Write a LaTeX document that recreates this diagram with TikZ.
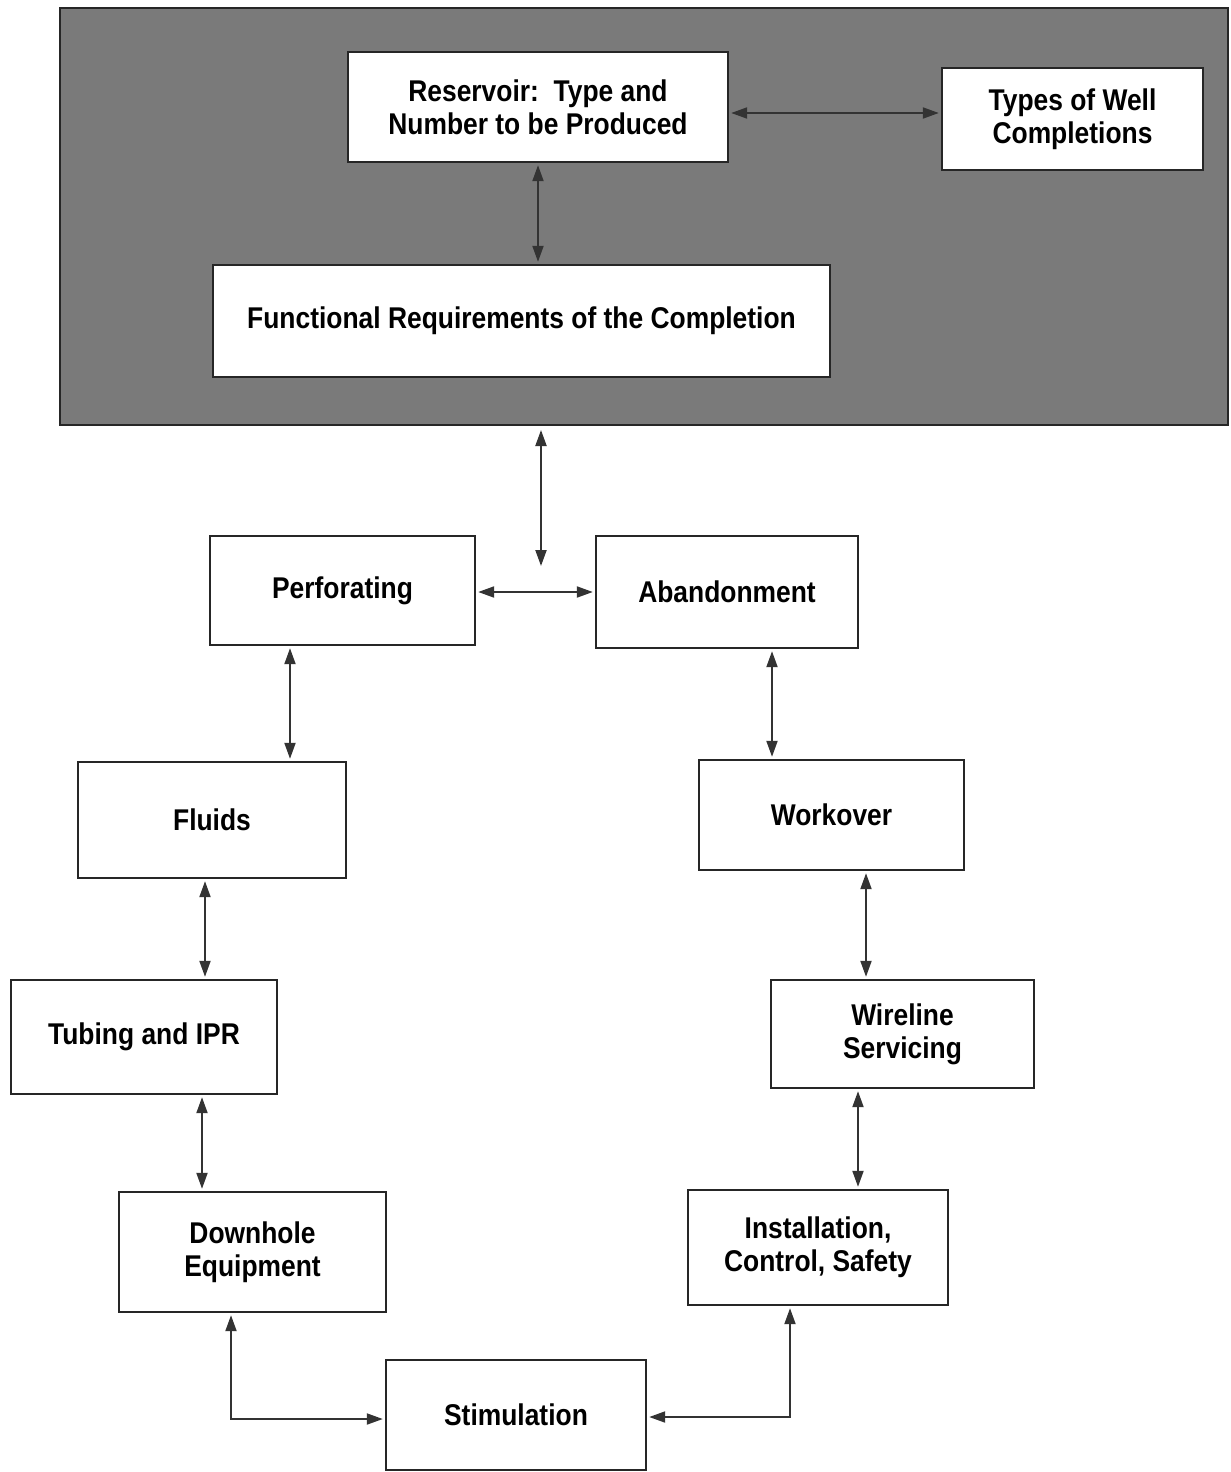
\documentclass[tikz,border=0pt]{standalone}
\usepackage{fontspec}
\setmainfont{Liberation Sans}[FakeStretch=0.88]
\usetikzlibrary{arrows.meta}
\begin{document}
\begin{tikzpicture}[x=1pt,y=-1pt,
  panel/.style={draw=black!85, line width=2pt, fill=black!52, inner sep=0pt},
  box/.style={draw=black!85, line width=2.4pt, fill=white, inner sep=0pt, align=center,
     font=\bfseries\fontsize{30}{33}\selectfont},
  link/.style={draw=black!80, line width=2pt, {Triangle[length=16pt,width=11pt]}-{Triangle[length=16pt,width=11pt]},
     shorten <=2pt, shorten >=2pt}]
\useasboundingbox (0,0) rectangle (1231,1472);
\fill[white] (0,0) rectangle (1231,1472);
% shaded panel
\node[panel, minimum width=1168pt, minimum height=417pt] (top) at (644,216.5) {};
% boxes
\node[box, minimum width=380pt, minimum height=110pt] (res) at (538,107) {Reservoir:\, Type and\\Number to be Produced};
\node[box, minimum width=261pt, minimum height=102pt] (types) at (1072.5,119) {Types of Well\\Completions};
\node[box, minimum width=617pt, minimum height=112pt] (func) at (521.5,321) {Functional Requirements of the Completion};
\node[box, minimum width=265pt, minimum height=109pt] (perf) at (342.5,590.5) {Perforating};
\node[box, minimum width=262pt, minimum height=112pt] (aband) at (727,592) {Abandonment};
\node[box, minimum width=268pt, minimum height=116pt] (fluids) at (212,820) {Fluids};
\node[box, minimum width=265pt, minimum height=110pt] (work) at (831.5,815) {Workover};
\node[box, minimum width=266pt, minimum height=114pt] (tubing) at (144,1037) {Tubing and IPR};
\node[box, minimum width=263pt, minimum height=108pt] (wire) at (902.5,1034) {Wireline\\Servicing};
\node[box, minimum width=267pt, minimum height=120pt] (down) at (252.5,1252) {Downhole\\Equipment};
\node[box, minimum width=260pt, minimum height=115pt] (inst) at (818,1247.5) {Installation,\\Control, Safety};
\node[box, minimum width=260pt, minimum height=110pt] (stim) at (516,1415) {Stimulation};
\coordinate (cp) at (541,568);
% connectors
\draw[link] (res.east |- 0,113) -- (types.west |- 0,113);
\draw[link] (res.south -| 538,0) -- (func.north -| 538,0);
\draw[link, shorten <=4pt] (top.south -| cp) -- (cp);
\draw[link] (perf.east |- 0,592) -- (aband.west |- 0,592);
\draw[link] (perf.south -| 290,0) -- (fluids.north -| 290,0);
\draw[link] (aband.south -| 772,0) -- (work.north -| 772,0);
\draw[link] (fluids.south -| 205,0) -- (tubing.north -| 205,0);
\draw[link] (work.south -| 866,0) -- (wire.north -| 866,0);
\draw[link] (tubing.south -| 202,0) -- (down.north -| 202,0);
\draw[link] (wire.south -| 858,0) -- (inst.north -| 858,0);
\draw[link] (down.south -| 231,0) |- (stim.west |- 0,1419);
\draw[link] (inst.south -| 790,0) |- (stim.east |- 0,1417);
\end{tikzpicture}
\end{document}
